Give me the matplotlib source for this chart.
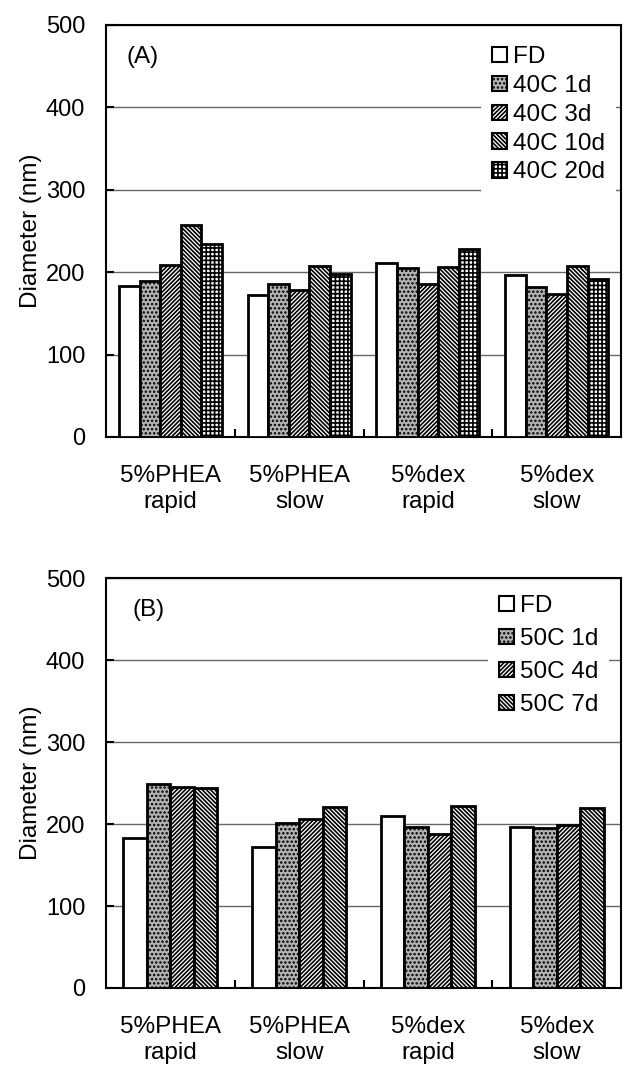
import matplotlib
matplotlib.use("Agg")
import matplotlib.pyplot as plt
import numpy as np
from matplotlib.patches import Patch

plt.rcParams['font.family'] = ['Liberation Sans', 'DejaVu Sans']
plt.rcParams['hatch.linewidth'] = 1.2

groups = ['5%PHEA\nrapid', '5%PHEA\nslow', '5%dex\nrapid', '5%dex\nslow']

# panel A: 40C storage
labels_a = ['FD', '40C 1d', '40C 3d', '40C 10d', '40C 20d']
fd_a = [183, 172, 211, 196]
d1_a = [189, 186, 205, 182]
d3_a = [209, 178, 186, 173]
d10_a = [257, 208, 206, 207]
d20_a = [234, 198, 228, 192]

# panel B: 50C storage
labels_b = ['FD', '50C 1d', '50C 4d', '50C 7d']
fd_b = [183, 172, 210, 196]
d1_b = [249, 201, 196, 195]
d4_b = [245, 206, 188, 199]
d7_b = [244, 221, 222, 220]

styles = [('white', ''), ('#b4b4b4', '....'), ('white', '////////'),
          ('white', '\\\\\\\\\\\\\\\\'), ('white', '++++')]


def panel(ax, series, labels, width, tag, tag_x, leg_x, leg_y, spacing):
    x = np.arange(len(groups)) + 0.5
    n = len(series)
    handles = []
    for i, vals in enumerate(series):
        fc, h = styles[i]
        off = (i - (n - 1) / 2) * width
        ax.bar(x + off, vals, width, color=fc, hatch=h, edgecolor='black',
               linewidth=2, zorder=3)
        handles.append(Patch(facecolor=fc, hatch=h, edgecolor='black',
                             linewidth=1.5, label=labels[i]))
    ax.set_xlim(0, 4)
    ax.set_ylim(0, 500)
    ax.set_yticks([0, 100, 200, 300, 400, 500])
    ax.yaxis.grid(True, color='#666666', linewidth=1.0, zorder=0)
    ax.set_axisbelow(True)
    ax.set_xticks([1, 2, 3])
    ax.set_xticklabels([])
    ax.set_xticks(x, minor=True)
    ax.set_xticklabels(groups, minor=True, fontsize=17.5, linespacing=1.25)
    ax.tick_params(axis='x', which='major', direction='in', length=6, width=1.5)
    ax.tick_params(axis='x', which='minor', length=0, pad=20)
    ax.tick_params(axis='y', direction='in', length=6, width=1.5, labelsize=17, pad=15)
    for s in ax.spines.values():
        s.set_linewidth(1.5)
    ax.set_ylabel('Diameter (nm)', fontsize=17.5, labelpad=3)
    ax.text(tag_x, 0.922, tag, transform=ax.transAxes, fontsize=17.5, va='center')
    leg = ax.legend(handles=handles, loc='upper left', bbox_to_anchor=(leg_x, leg_y),
                    frameon=True, fancybox=False, fontsize=17.5, handlelength=0.6,
                    handleheight=0.6, handletextpad=0.25, labelspacing=spacing,
                    borderpad=0.45, borderaxespad=0)
    leg.get_frame().set_edgecolor('none')
    leg.get_frame().set_facecolor('white')
    leg.get_frame().set_alpha(1)
    leg.set_zorder(5)


fig = plt.figure(figsize=(6.24, 10.71), dpi=100)
ax1 = fig.add_axes([0.170, 0.592, 0.8253, 0.3847])
ax2 = fig.add_axes([0.170, 0.0775, 0.8253, 0.3828])

panel(ax1, [fd_a, d1_a, d3_a, d10_a, d20_a], labels_a, 0.16, '(A)', 0.039,
      0.728, 0.975, 0.28)
panel(ax2, [fd_b, d1_b, d4_b, d7_b], labels_b, 0.1825, '(B)', 0.052,
      0.742, 0.985, 0.45)

fig.savefig('out.png', dpi=100)
